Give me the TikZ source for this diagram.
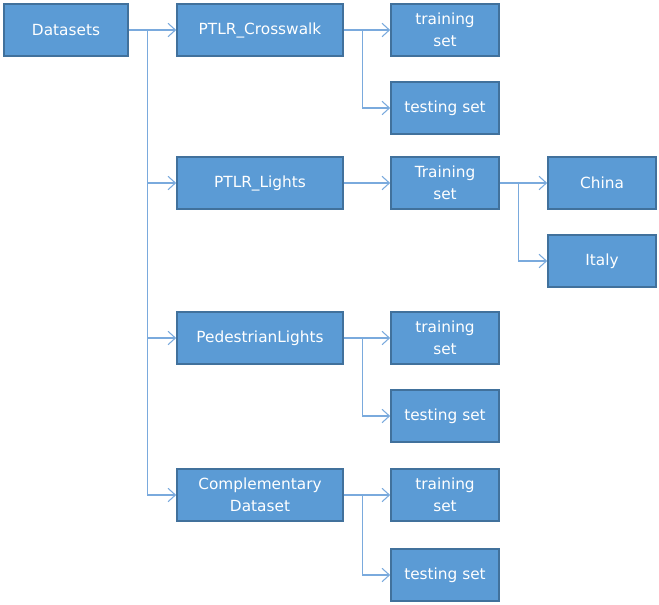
\documentclass[tikz,border=0pt]{standalone}
\usepackage{fontspec}
\setmainfont{DejaVu Sans}
\usepackage{tikz}
\usetikzlibrary{arrows.meta}
\definecolor{boxblue}{HTML}{5B9BD5}
\definecolor{boxedge}{HTML}{41719C}
\definecolor{linkblue}{HTML}{7AAADD}
\begin{document}
\begin{tikzpicture}[x=0.75pt,y=-0.75pt,
	box/.style={draw=boxedge,line width=1.2pt,fill=boxblue,text=white,align=center,
		font=\fontsize{11.5}{16.5}\selectfont,inner sep=0pt},
	wide/.style={box,minimum width=124.5pt,minimum height=39pt},
	small/.style={box,minimum width=81pt,minimum height=39pt},
	link/.style={draw=linkblue,line width=0.8pt,-{Straight Barb[length=5.5pt,width=10pt]}}]
				\useasboundingbox (0,0) rectangle (659,604);
				\node[box,minimum width=93pt,minimum height=39pt] (datasets) at (66,30) {Datasets};
				\node[wide] (crosswalk) at (260,30) {PTLR\_Crosswalk};
				\node[wide] (lights) at (260,183) {PTLR\_Lights};
				\node[wide] (pedestrian) at (260,338) {PedestrianLights};
				\node[wide] (complementary) at (260,495) {Complementary\\Dataset};
				\node[small] (train1) at (445,30) {training\\set};
				\node[small] (test1) at (445,108) {testing set};
				\node[small] (train2) at (445,183) {Training\\set};
				\node[small] (china) at (602,183) {China};
				\node[small] (italy) at (602,261) {Italy};
				\node[small] (train3) at (445,338) {training\\set};
				\node[small] (test3) at (445,416) {testing set};
				\node[small] (train4) at (445,495) {training\\set};
				\node[small] (test4) at (445,575) {testing set};
				% first level
				\draw[link] (datasets) -- (crosswalk);
				\draw[link] (datasets.east) -- ++(19,0) |- (lights);
				\draw[link] (datasets.east) -- ++(19,0) |- (pedestrian);
				\draw[link] (datasets.east) -- ++(19,0) |- (complementary);
				% second level
				\draw[link] (crosswalk) -- (train1);
				\draw[link] (crosswalk.east) -- ++(19,0) |- (test1);
				\draw[link] (lights) -- (train2);
				\draw[link] (train2) -- (china);
				\draw[link] (train2.east) -- ++(19,0) |- (italy);
				\draw[link] (pedestrian) -- (train3);
				\draw[link] (pedestrian.east) -- ++(19,0) |- (test3);
				\draw[link] (complementary) -- (train4);
				\draw[link] (complementary.east) -- ++(19,0) |- (test4);
	\end{tikzpicture}
\end{document}
